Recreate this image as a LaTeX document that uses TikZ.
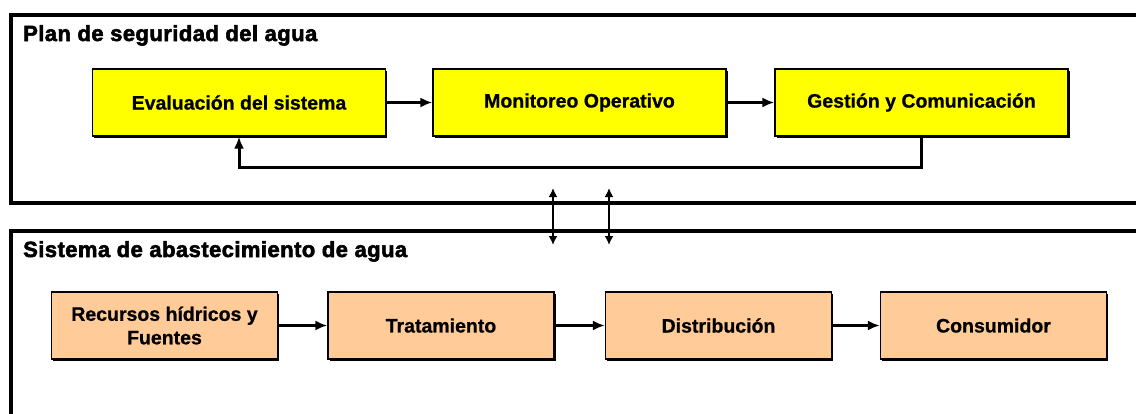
\documentclass[tikz,border=0pt]{standalone}
\usepackage{fontspec}
\setmainfont{Liberation Sans}[BoldFeatures={FakeBold=0.8}]
\newfontfamily\titlefont{Liberation Sans}[BoldFeatures={LetterSpace=2,FakeBold=2.5}]
\usetikzlibrary{arrows.meta,shadows}
\definecolor{ybox}{HTML}{FFFF00}
\definecolor{obox}{HTML}{FFCC99}
\begin{document}
\begin{tikzpicture}[x=1pt,y=-1pt,
  frame/.style={draw=black,line width=3.5pt},
  title/.style={anchor=base west,inner sep=0pt,font=\titlefont\bfseries\fontsize{22}{26}\selectfont},
  boxbase/.style={draw=black,line width=1.3pt,minimum height=67pt,align=center,inner sep=2pt,
    font=\bfseries\fontsize{19.5}{23.5}\selectfont,
    drop shadow={shadow xshift=1.6pt,shadow yshift=-1.6pt,fill=black,opacity=1}},
  ybx/.style={boxbase,fill=ybox,minimum width=293pt},
  obx/.style={boxbase,fill=obox,minimum width=226pt},
  arr/.style={line width=3pt,-{Latex[length=12pt,width=10pt]}},
  darr/.style={line width=2.3pt,{Latex[length=9pt,width=9pt]}-{Latex[length=9pt,width=9pt]}}
]
\useasboundingbox[fill=white] (0,0) rectangle (1136,413);
\draw[frame] (11,15) rectangle (1160,203);
\draw[frame] (11,231) rectangle (1160,440);
\node[title] (t1) at (23,41) {Plan de seguridad del agua};
\node[title] (t2) at (23,257) {Sistema de abastecimiento de agua};
% yellow row
\node[ybx] (e) at (239,102.5) {Evaluación del sistema};
\node[ybx] (m) at (579.5,102.5) {Monitoreo Operativo};
\node[ybx] (g) at (921.5,102.5) {Gestión y Comunicación};
\draw[arr] (e) -- (m);
\draw[arr] (m) -- (g);
\draw[arr] (g.south) -- ++(0,31) -| (e.south);
% orange row
\node[obx] (r) at (164.5,325.5) {Recursos hídricos y\\Fuentes};
\node[obx] (tr) at (441,325.5) {Tratamiento};
\node[obx] (di) at (718.5,325.5) {Distribución};
\node[obx] (co) at (993.5,325.5) {Consumidor};
\draw[arr] (r) -- (tr);
\draw[arr] (tr) -- (di);
\draw[arr] (di) -- (co);
% links between systems
\coordinate (u1) at (553,188);
\coordinate (d1) at (553,245);
\coordinate (u2) at (609,188);
\coordinate (d2) at (609,245);
\draw[darr] (u1) -- (d1);
\draw[darr] (u2) -- (d2);
\end{tikzpicture}
\end{document}
